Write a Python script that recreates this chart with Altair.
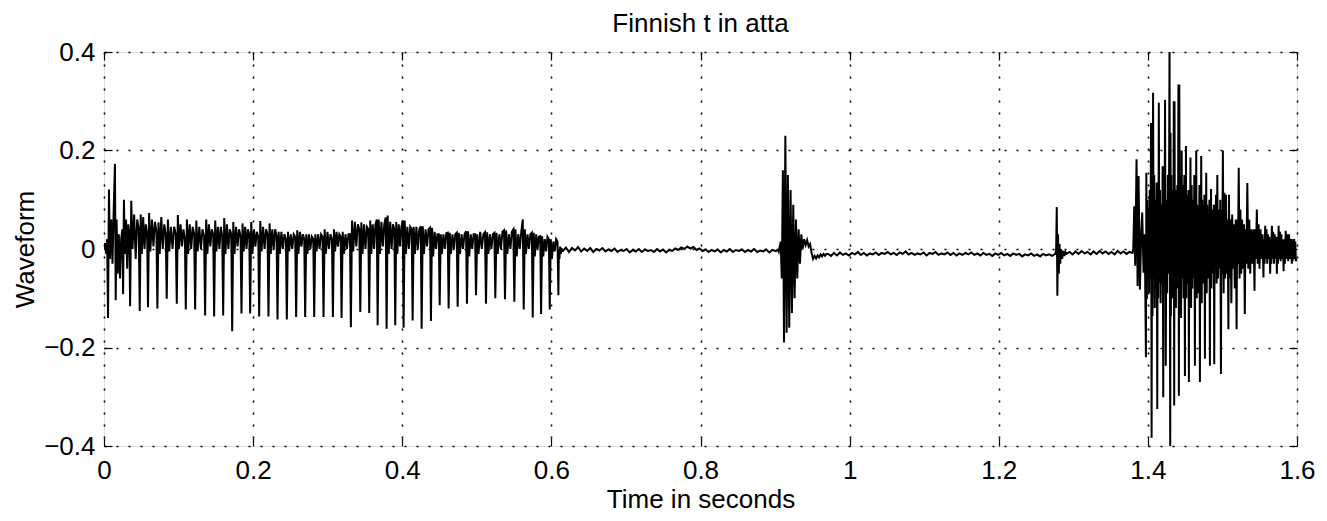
import altair as alt
import numpy as np
import pandas as pd

# ---------------- data ----------------
# onset before first glottal pulse (time s, value)
onset_t = [0.0000, 0.0015, 0.0030, 0.0042]
onset_v = [0.000, 0.012, -0.010, 0.020]

# first vowel: times of the glottal-pulse troughs (s) and end of voicing
pulse_t = [0.0054, 0.0157, 0.0256, 0.0350, 0.0479, 0.0590, 0.0716, 0.0841, 0.0976, 0.1097,
           0.1222, 0.1356, 0.1477, 0.1598, 0.1719, 0.1844, 0.1960, 0.2081, 0.2206, 0.2327,
           0.2452, 0.2577, 0.2698, 0.2819, 0.2944, 0.3070, 0.3186, 0.3311, 0.3437, 0.3557,
           0.3670, 0.3790, 0.3906, 0.4018, 0.4139, 0.4260, 0.4385, 0.4502, 0.4622, 0.4743,
           0.4868, 0.4989, 0.5123, 0.5248, 0.5378, 0.5503, 0.5629, 0.5750, 0.5862, 0.5978,
           0.6094]
pulse_end = 0.6150
# relative position of each value inside one pitch period
pulse_pos = [0.0, 0.12, 0.25, 0.42, 0.58, 0.74, 0.90]
# per period: trough, peak, dip, bump, dip, bump, value before next trough
pulse_v = [
    [-0.140, 0.121, -0.020, 0.060, -0.030, 0.080, 0.173],
    [-0.104, 0.060, -0.050, 0.030, -0.060, 0.020, 0.040],
    [-0.092, 0.100, -0.010, 0.060, -0.040, 0.050, 0.030],
    [-0.116, 0.098, 0.000, 0.070, -0.020, 0.060, 0.040],
    [-0.126, 0.070, -0.010, 0.065, 0.000, 0.050, 0.030],
    [-0.118, 0.073, -0.005, 0.060, 0.005, 0.055, 0.035],
    [-0.121, 0.054, -0.010, 0.065, 0.000, 0.050, 0.030],
    [-0.101, 0.060, -0.005, 0.045, 0.000, 0.045, 0.030],
    [-0.111, 0.069, 0.000, 0.050, 0.005, 0.040, 0.020],
    [-0.123, 0.060, -0.010, 0.050, 0.000, 0.045, 0.030],
    [-0.123, 0.058, -0.005, 0.045, 0.000, 0.040, 0.025],
    [-0.135, 0.060, -0.010, 0.050, 0.005, 0.040, 0.030],
    [-0.137, 0.058, -0.005, 0.045, 0.000, 0.045, 0.025],
    [-0.135, 0.063, -0.010, 0.050, 0.000, 0.040, 0.030],
    [-0.167, 0.055, -0.010, 0.045, 0.005, 0.040, 0.025],
    [-0.131, 0.052, -0.005, 0.045, 0.000, 0.040, 0.030],
    [-0.131, 0.055, -0.010, 0.040, 0.005, 0.035, 0.025],
    [-0.137, 0.057, -0.005, 0.045, 0.000, 0.040, 0.030],
    [-0.137, 0.052, -0.010, 0.040, 0.000, 0.040, 0.025],
    [-0.143, 0.035, -0.010, 0.035, 0.000, 0.030, 0.020],
    [-0.143, 0.035, -0.005, 0.030, 0.000, 0.030, 0.025],
    [-0.138, 0.038, -0.010, 0.035, 0.005, 0.030, 0.020],
    [-0.138, 0.030, -0.010, 0.030, 0.000, 0.025, 0.020],
    [-0.138, 0.030, -0.005, 0.030, 0.000, 0.030, 0.025],
    [-0.138, 0.040, -0.010, 0.035, 0.000, 0.030, 0.020],
    [-0.138, 0.040, -0.005, 0.035, 0.005, 0.030, 0.025],
    [-0.140, 0.035, -0.010, 0.030, 0.000, 0.030, 0.030],
    [-0.159, 0.058, -0.005, 0.055, 0.005, 0.050, 0.040],
    [-0.128, 0.054, -0.010, 0.050, 0.000, 0.045, 0.040],
    [-0.130, 0.058, -0.010, 0.050, 0.000, 0.050, 0.060],
    [-0.155, 0.060, -0.010, 0.055, 0.005, 0.050, 0.064],
    [-0.162, 0.068, -0.010, 0.055, 0.000, 0.050, 0.040],
    [-0.155, 0.055, -0.010, 0.050, 0.005, 0.045, 0.058],
    [-0.160, 0.058, -0.010, 0.045, 0.000, 0.045, 0.040],
    [-0.145, 0.045, -0.010, 0.045, 0.000, 0.040, 0.046],
    [-0.162, 0.046, -0.010, 0.040, 0.005, 0.040, 0.043],
    [-0.146, 0.043, -0.015, 0.035, 0.000, 0.030, 0.030],
    [-0.114, 0.030, -0.010, 0.030, 0.000, 0.032, 0.033],
    [-0.121, 0.033, -0.010, 0.030, 0.000, 0.030, 0.033],
    [-0.117, 0.033, -0.010, 0.030, 0.000, 0.030, 0.036],
    [-0.111, 0.036, -0.015, 0.030, 0.000, 0.030, 0.030],
    [-0.094, 0.030, -0.010, 0.035, 0.000, 0.030, 0.034],
    [-0.111, 0.034, -0.010, 0.030, 0.000, 0.030, 0.033],
    [-0.100, 0.033, -0.010, 0.030, 0.000, 0.035, 0.038],
    [-0.102, 0.038, -0.010, 0.030, 0.000, 0.035, 0.040],
    [-0.107, 0.040, -0.015, 0.030, 0.000, 0.035, 0.060],
    [-0.123, 0.040, -0.010, 0.030, 0.000, 0.030, 0.033],
    [-0.139, 0.033, -0.015, 0.030, 0.000, 0.025, 0.026],
    [-0.132, 0.026, -0.015, 0.020, -0.005, 0.025, 0.020],
    [-0.123, 0.020, -0.020, 0.015, -0.005, 0.020, 0.015],
    [-0.094, 0.000, -0.020, 0.005, -0.010, 0.002, -0.004],
]

# closure (silence) before the release burst
sil1_start, sil1_end = 0.6155, 0.9045
sil1_v = [-0.004, 0.003, -0.006, 0.002, -0.003, 0.004, -0.005, 0.001, -0.004, 0.002,
          -0.006, 0.000, -0.003, 0.002, -0.005, -0.001, -0.004, 0.001, -0.006, -0.002,
          -0.004, 0.000, -0.007, -0.002, -0.005, 0.000, -0.006, -0.001, -0.004, -0.002,
          -0.006, 0.000, -0.005, -0.001, -0.007, -0.002, -0.004, 0.001, -0.002, 0.003,
          0.000, 0.005, 0.001, 0.004, -0.002, 0.001, -0.004, -0.001, -0.006, -0.002,
          -0.005, -0.001, -0.007, -0.002, -0.005, 0.000, -0.006, -0.002, -0.004, -0.001,
          -0.006, -0.002, -0.005, 0.000, -0.006, -0.003, -0.005, -0.001, -0.007, -0.002,
          -0.004, -0.003]

# release burst of t
burst_t = [0.9050, 0.9075, 0.9090, 0.9105, 0.9120, 0.9138, 0.9155, 0.9172, 0.9190, 0.9208,
           0.9226, 0.9244, 0.9262, 0.9280, 0.9298, 0.9316, 0.9334, 0.9352, 0.9370, 0.9390,
           0.9410, 0.9430, 0.9450, 0.9470, 0.9490, 0.9510, 0.9530, 0.9550, 0.9570, 0.9590,
           0.9610, 0.9630, 0.9650, 0.9670, 0.9690]
burst_v = [-0.005, 0.015, -0.060, 0.160, -0.190, 0.230, -0.170, 0.150, -0.160, 0.120,
           -0.130, 0.090, -0.100, 0.060, -0.060, 0.040, -0.030, 0.030, 0.000, 0.020,
           0.008, 0.018, 0.005, 0.010, -0.008, -0.020, -0.014, -0.019, -0.013, -0.017,
           -0.011, -0.015, -0.010, -0.014, -0.010]

# second closure
sil2_start, sil2_end = 0.9710, 1.2755
sil2_v = [-0.010, -0.014, -0.008, -0.013, -0.007, -0.012, -0.009, -0.013, -0.008, -0.011,
          -0.006, -0.012, -0.008, -0.013, -0.009, -0.011, -0.007, -0.012, -0.008, -0.010,
          -0.006, -0.011, -0.008, -0.012, -0.007, -0.010, -0.005, -0.011, -0.008, -0.012,
          -0.009, -0.011, -0.007, -0.013, -0.008, -0.010, -0.006, -0.012, -0.009, -0.011,
          -0.007, -0.012, -0.008, -0.013, -0.009, -0.012, -0.008, -0.011, -0.007, -0.012,
          -0.009, -0.013, -0.008, -0.012, -0.010, -0.014, -0.009, -0.012, -0.008, -0.013,
          -0.010, -0.014, -0.009, -0.012, -0.010, -0.015, -0.011, -0.013, -0.009, -0.014,
          -0.011, -0.015, -0.010, -0.013, -0.011, -0.014, -0.010]

# small click near 1.28 s
click_t = [1.2760, 1.2770, 1.2778, 1.2786, 1.2795, 1.2805, 1.2815, 1.2825, 1.2835, 1.2850,
           1.2865, 1.2880, 1.2895]
click_v = [-0.010, 0.000, 0.085, -0.095, 0.030, -0.050, 0.010, -0.030, 0.000, -0.020,
           -0.004, -0.014, -0.006]

sil3_start, sil3_end = 1.2910, 1.3795
sil3_v = [-0.010, -0.006, -0.011, -0.005, -0.010, -0.004, -0.009, -0.006, -0.011, -0.005,
          -0.010, -0.004, -0.009, -0.005, -0.010, -0.006, -0.011, -0.004, -0.009, -0.005,
          -0.010, -0.006, -0.008]

# second vowel: onset, then pitch periods (trough times) with values inside each period
v2_on_t = [1.3804, 1.3817, 1.3830, 1.3848, 1.3862, 1.3875, 1.3893, 1.3911, 1.3924, 1.3942,
           1.3958]
v2_on_v = [0.000, 0.087, -0.034, 0.182, -0.075, 0.148, -0.082, 0.033, 0.074, -0.048,
           0.030]
v2_t = [1.3974, 1.4050, 1.4126, 1.4206, 1.4300, 1.4353, 1.4416, 1.4497, 1.4550, 1.4631,
        1.4698, 1.4765, 1.4832, 1.4890, 1.4980, 1.5080, 1.5190, 1.5300, 1.5430, 1.5550,
        1.5640, 1.5730, 1.5820, 1.5930]
v2_end = 1.6000
v2_pos = [0.0, 0.07, 0.16, 0.26, 0.36, 0.46, 0.56, 0.67, 0.78, 0.90]
v2_v = [
    [-0.220, 0.155, -0.102, 0.100, -0.050, 0.080, -0.090, 0.120, -0.060, 0.256],
    [-0.383, 0.100, -0.136, 0.317, -0.034, 0.150, -0.120, 0.100, -0.080, 0.135],
    [-0.325, 0.135, -0.100, 0.297, -0.068, 0.120, -0.110, 0.090, -0.070, 0.168],
    [-0.301, 0.168, -0.080, 0.303, -0.237, 0.100, -0.090, 0.150, -0.050, 0.420],
    [-0.430, 0.236, -0.136, 0.150, -0.080, 0.120, -0.100, 0.080, -0.050, 0.300],
    [-0.318, 0.300, -0.100, 0.120, -0.120, 0.100, -0.060, 0.130, -0.080, 0.334],
    [-0.298, 0.334, -0.090, 0.110, -0.140, 0.200, -0.060, 0.130, -0.100, 0.150],
    [-0.258, 0.130, -0.080, 0.209, -0.100, 0.110, -0.070, 0.090, -0.050, 0.120],
    [-0.270, 0.100, -0.060, 0.186, -0.120, 0.130, -0.080, 0.100, -0.060, 0.150],
    [-0.237, 0.110, -0.080, 0.200, -0.100, 0.090, -0.090, 0.080, -0.050, 0.130],
    [-0.270, 0.090, -0.050, 0.189, -0.110, 0.100, -0.070, 0.090, -0.040, 0.110],
    [-0.223, 0.080, -0.060, 0.155, -0.090, 0.090, -0.060, 0.070, -0.040, 0.100],
    [-0.237, 0.070, -0.040, 0.122, -0.080, 0.080, -0.050, 0.060, -0.030, 0.090],
    [-0.234, 0.090, -0.030, 0.110, -0.070, 0.150, -0.060, 0.080, -0.040, 0.100],
    [-0.254, 0.080, -0.050, 0.200, -0.090, 0.114, -0.060, 0.110, -0.050, 0.060],
    [-0.163, 0.110, -0.060, 0.060, -0.110, 0.070, -0.040, 0.050, -0.080, 0.060],
    [-0.163, 0.060, -0.030, 0.165, -0.060, 0.080, -0.050, 0.060, -0.040, 0.050],
    [-0.132, 0.040, -0.030, 0.134, -0.040, 0.060, -0.050, 0.040, -0.030, 0.040],
    [-0.085, 0.040, -0.020, 0.080, -0.030, 0.050, -0.040, 0.040, -0.020, 0.030],
    [-0.058, 0.020, -0.030, 0.047, -0.020, 0.040, -0.030, 0.030, -0.020, 0.025],
    [-0.050, 0.020, -0.030, 0.047, -0.020, 0.035, -0.030, 0.030, -0.020, 0.025],
    [-0.050, 0.025, -0.030, 0.047, -0.020, 0.035, -0.025, 0.030, -0.020, 0.020],
    [-0.045, 0.020, -0.030, 0.037, -0.020, 0.030, -0.025, 0.030, -0.020, 0.020],
    [-0.030, 0.020, -0.025, 0.016, -0.020, 0.020, -0.020, 0.015, -0.025, -0.020],
]

x_ticks = [0, 0.2, 0.4, 0.6, 0.8, 1.0, 1.2, 1.4, 1.6]
y_ticks = [-0.4, -0.2, 0, 0.2, 0.4]

# ---------------- assemble the waveform table ----------------
def periods(times, end, pos, rows):
    out_t, out_v = [], []
    for i, T in enumerate(times):
        nxt = times[i + 1] if i + 1 < len(times) else end
        for f, val in zip(pos, rows[i]):
            out_t.append(T + f * (nxt - T))
            out_v.append(val)
    return out_t, out_v

ts, vs = list(onset_t), list(onset_v)
a, b = periods(pulse_t, pulse_end, pulse_pos, pulse_v); ts += a; vs += b
ts += list(np.linspace(sil1_start, sil1_end, len(sil1_v))); vs += sil1_v
ts += burst_t; vs += burst_v
ts += list(np.linspace(sil2_start, sil2_end, len(sil2_v))); vs += sil2_v
ts += click_t; vs += click_v
ts += list(np.linspace(sil3_start, sil3_end, len(sil3_v))); vs += sil3_v
ts += v2_on_t; vs += v2_on_v
a, b = periods(v2_t, v2_end, v2_pos, v2_v); ts += a; vs += b

df = pd.DataFrame({"t": ts, "v": vs, "i": range(len(ts))})

FONT = "Liberation Sans"
FS = 26
xs = alt.Scale(domain=[0, 1.6], nice=False, zero=False)
ys = alt.Scale(domain=[-0.4, 0.4], nice=False, zero=False)

wave = alt.Chart(df).mark_line(color="black", strokeWidth=2.0, clip=True).encode(
    x=alt.X("t:Q", scale=xs, axis=alt.Axis(
        orient="bottom", values=x_ticks, format="~g", title="Time in seconds",
        grid=True, gridDash=[2, 10], gridColor="black", gridWidth=1.6, gridOpacity=1,
        domain=False, ticks=True, tickSize=8, tickColor="black", tickWidth=1.2, offset=-8,
        labelFont=FONT, labelFontSize=FS, labelColor="black", labelPadding=11,
        labelOverlap=False, labelFlush=False,
        titleFont=FONT, titleFontSize=FS, titleFontWeight="normal", titleColor="black",
        titlePadding=3)),
    y=alt.Y("v:Q", scale=ys, axis=alt.Axis(
        orient="left", values=y_ticks, format="~g", title="Waveform",
        grid=True, gridDash=[2, 10], gridColor="black", gridWidth=1.6, gridOpacity=1,
        domain=False, ticks=True, tickSize=8, tickColor="black", tickWidth=1.2, offset=-8,
        labelFont=FONT, labelFontSize=FS, labelColor="black", labelPadding=9,
        labelOverlap=False, labelFlush=False,
        titleFont=FONT, titleFontSize=FS, titleFontWeight="normal", titleColor="black",
        titlePadding=5)),
    order="i:Q",
)

frame_df = pd.DataFrame({"t": [0, 1.6], "v": [-0.4, 0.4]})
ticks_tr = alt.Chart(frame_df).mark_point(opacity=0).encode(
    x=alt.X("t:Q", scale=xs, axis=alt.Axis(
        orient="top", values=x_ticks, labels=False, grid=False, domain=False, title=None,
        ticks=True, tickSize=8, tickColor="black", tickWidth=1.2, offset=-8)),
    y=alt.Y("v:Q", scale=ys, axis=alt.Axis(
        orient="right", values=y_ticks, labels=False, grid=False, domain=False, title=None,
        ticks=True, tickSize=8, tickColor="black", tickWidth=1.2, offset=-8)),
)

chart = alt.layer(wave, ticks_tr).resolve_scale(x="independent", y="independent").properties(
    width=1193, height=394,
    title=alt.TitleParams("Finnish t in atta", font=FONT, fontSize=FS, fontWeight="normal",
                          color="black", anchor="middle", offset=2),
    autosize=alt.AutoSizeParams(type="none"),
    padding={"left": 96, "top": 44, "right": 22, "bottom": 67},
).configure_view(stroke="black", strokeWidth=1.2).configure(background="white")

chart.save("out.html", embed_options={"renderer": "svg", "actions": False})
